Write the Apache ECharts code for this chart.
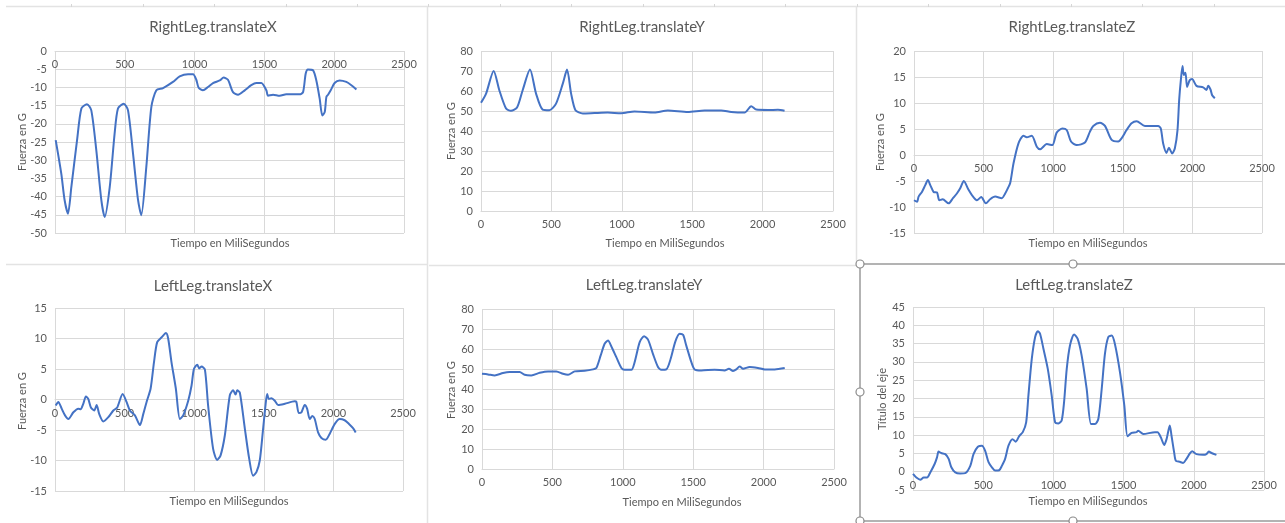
<!DOCTYPE html>
<html>
<head>
<meta charset="utf-8">
<script src="https://cdn.jsdelivr.net/npm/echarts@6/dist/echarts.min.js"></script>
<style>
  html, body { margin: 0; padding: 0; background: #ffffff; }
  #chart { width: 1285px; height: 523px; }
</style>
</head>
<body>
<div id="chart"></div>
<script>
// Sensor traces, time in milliseconds, force in G
const rightLegXTime = [5,45,69,93,117,158,189,229,260,296,332,356,392,427,451,492,523,559,595,618,654,690,726,774,845,893,953,989,1012,1029,1060,1096,1132,1180,1208,1239,1275,1311,1359,1406,1442,1478,1514,1526,1562,1609,1657,1753,1777,1796,1812,1848,1872,1896,1915,1932,1944,1956,1975,2003,2039,2087,2123,2159];
const rightLegXForce = [-24.5,-33.7,-41,-44.7,-37.4,-24.5,-15.8,-14.6,-16.3,-27.3,-41,-45.6,-37.4,-22.7,-15.8,-14.5,-16.3,-28.2,-41,-45.1,-31.9,-15.4,-10.8,-10.2,-8.5,-7,-6.4,-6.4,-7.9,-10.1,-10.8,-9.9,-8.8,-8.1,-7.3,-7.9,-11.3,-12,-10.8,-9.4,-8.8,-8.8,-10.8,-12.3,-12,-12.3,-11.9,-11.9,-11.3,-6.2,-5.1,-5.3,-8.1,-13.1,-17.7,-16.8,-12.6,-12,-10.8,-8.8,-8.1,-8.5,-9.4,-10.6];

const rightLegYTime = [0,36,90,130,178,213,256,296,348,391,438,486,533,581,611,640,671,723,806,900,995,1090,1232,1327,1469,1588,1706,1777,1872,1919,1955,2038,2109,2156];
const rightLegYForce = [54.1,58.7,70,60.4,51.2,50.1,51.7,60.4,70.7,58.7,50.7,50.4,53.7,63.7,70.7,58.7,50.4,48.8,49,49.2,48.9,49.8,49.3,50.3,49.5,50.3,50.3,49.5,49.2,52.4,50.7,50.5,50.6,50.1];

const rightLegZTime = [0,22,33,57,81,100,117,141,165,182,206,249,280,308,332,358,392,416,452,483,516,547,583,631,655,674,691,715,750,786,810,846,882,906,954,994,1025,1066,1097,1128,1169,1228,1264,1288,1336,1372,1420,1467,1491,1527,1563,1599,1659,1754,1773,1790,1814,1831,1855,1874,1893,1905,1917,1929,1938,1950,1962,1981,1998,2029,2077,2101,2113,2130,2142,2161];
const rightLegZForce = [-8.7,-9,-8,-7.1,-5.8,-4.8,-5.8,-7.1,-7.2,-8.7,-8.5,-9.3,-8.3,-7.4,-6.4,-5,-6.7,-7.7,-8.7,-8.1,-9.3,-8.5,-8,-8.3,-7.4,-6.4,-5.4,-1.6,2.2,3.7,3.4,3.7,1.6,1.1,2.1,1.9,4.3,5.1,4.8,2.6,1.9,2.4,4.5,5.6,6.2,5.6,2.9,2.6,3.2,4.8,6.1,6.5,5.6,5.6,5.1,2.2,0.4,1.4,0.3,1.3,4.8,10.6,14.4,17.1,15.4,15.8,13.1,14.4,14.6,13.3,13,12.5,13.3,12.6,11.5,10.9];

const leftLegXTime = [5,24,48,72,96,132,167,184,203,222,239,258,282,299,318,347,383,419,447,486,514,538,574,610,634,658,687,711,734,766,797,813,837,868,897,921,957,981,998,1022,1036,1053,1077,1100,1136,1165,1189,1220,1256,1280,1297,1309,1328,1364,1395,1423,1447,1471,1495,1512,1524,1536,1555,1579,1603,1651,1722,1734,1751,1770,1794,1811,1830,1849,1866,1890,1914,1945,1974,2010,2045,2081,2112,2141,2160];
const leftLegXForce = [-1,-0.4,-1.5,-2.6,-3.2,-2.1,-1.5,-1.6,-0.7,0.5,0.1,-1.3,-1.8,-0.9,-2.4,-3.6,-2.9,-1.8,-1.3,0.9,-0.4,-1.8,-2.6,-4.2,-2.4,-0.4,1.8,6.1,9.4,10.2,10.9,10,6.1,1.8,-3.2,-2.6,-0.2,2.3,5,5.7,5.1,5.4,4.9,-1,-8.1,-9.9,-9.2,-5.9,0.7,1.5,0.8,1.5,1.1,-4.8,-9.7,-12.5,-11.9,-10,-4.8,-1,0.9,0.1,0.2,-0.2,-0.9,-0.7,-0.3,-0.4,-2.2,-2.1,-0.9,-1.5,-3.2,-2.7,-3.2,-5.4,-6.3,-6.6,-5.6,-4,-3.2,-3.4,-4,-4.7,-5.4];

const leftLegYTime = [0,43,90,149,196,267,303,350,410,469,528,575,611,658,729,788,812,843,871,895,918,954,990,1013,1061,1084,1120,1151,1179,1214,1250,1274,1309,1340,1373,1404,1428,1451,1487,1510,1558,1652,1723,1754,1783,1806,1830,1854,1901,1960,2008,2079,2150];
const leftLegYForce = [47.6,47.3,46.8,48,48.5,48.5,47.1,46.8,48.1,48.8,48.8,47.6,47.1,48.8,49.1,49.8,50.5,56.8,62.6,64.2,61.4,55.9,50.5,49.6,49.6,53.4,63.4,66.4,64.7,57.6,51,49.6,49.8,55.1,63.7,67.6,67.1,61.7,53.4,49.8,49.3,49.6,49.3,50.1,49,49.8,51.3,50.1,51,50.5,49.8,49.8,50.5];

const leftLegZTime = [0,24,52,76,100,123,154,171,182,201,230,254,273,301,336,372,408,431,462,491,514,538,562,585,614,633,656,680,709,732,756,782,806,822,846,870,889,905,929,960,988,1012,1036,1059,1076,1095,1118,1147,1173,1201,1237,1268,1296,1320,1344,1367,1391,1415,1438,1474,1505,1528,1557,1592,1604,1640,1723,1742,1765,1789,1806,1829,1841,1860,1872,1900,1924,1948,1972,1988,2019,2066,2090,2107,2126,2161];
const leftLegZForce = [-0.6,-1.6,-2.2,-1.6,-1.6,-0.2,2.1,3.9,5.5,5.1,4.8,3.5,1.2,-0.2,-0.5,-0.4,1.6,4.8,6.8,7.1,5.7,2.6,1.2,0.3,0.4,1.6,3.5,7.1,8.9,8.2,9.7,10.8,13.5,20.8,30.8,36.8,38.4,37.7,33.6,28.1,20.8,13.5,13.2,14,19,28.1,34.5,37.5,36.3,31.8,22.6,13,13,14.4,22.6,32.2,36.8,37.2,34.9,27.2,18.1,9.7,10.6,10.8,11.2,10.3,10.8,10.8,9.4,7.3,8.9,12.6,9.9,5.3,3,2.7,2.4,3.5,5,5.6,4.8,4.6,4.8,5.5,5.1,4.6];

// Panel titles, axis titles and value ranges
const panelTitles = ['RightLeg.translateX','RightLeg.translateY','RightLeg.translateZ','LeftLeg.translateX','LeftLeg.translateY','LeftLeg.translateZ'];
const xAxisTitles = ['Tiempo en MiliSegundos','Tiempo en MiliSegundos','Tiempo en MiliSegundos','Tiempo en MiliSegundos','Tiempo en MiliSegundos','Tiempo en MiliSegundos'];
const yAxisTitles = ['Fuerza en G','Fuerza en G','Fuerza en G','Fuerza en G','Fuerza en G','Título del eje'];
const yMins = [-50, 0, -15, -15, 0, -5];
const yMaxs = [0, 80, 20, 15, 80, 45];
const yIntervals = [5, 10, 5, 5, 10, 5];
const xMin = 0, xMax = 2500, xInterval = 500;

const traces = [
  [rightLegXTime, rightLegXForce],
  [rightLegYTime, rightLegYForce],
  [rightLegZTime, rightLegZForce],
  [leftLegXTime, leftLegXForce],
  [leftLegYTime, leftLegYForce],
  [leftLegZTime, leftLegZForce]
];

// Layout of the six plot areas
const plots = [
  { left: 55,  top: 51,  width: 349, height: 182 },
  { left: 481, top: 51,  width: 352, height: 160 },
  { left: 914, top: 51,  width: 348, height: 182 },
  { left: 55,  top: 308, width: 348, height: 183 },
  { left: 482, top: 309, width: 352, height: 160 },
  { left: 913, top: 307, width: 351, height: 183 }
];
const titlePos = [[213, 27], [642, 27], [1072, 27], [213, 286], [644, 285], [1074, 285]];
const xTitlePos = [[230, 243], [665, 243], [1088, 243], [229, 501], [682, 502], [1088, 501]];
const yTitlePos = [[22, 142], [451, 131], [880, 142], [22, 401], [451, 390], [882, 399]];

const FONT = 'Lato, "Open Sans", sans-serif';
const TEXT = '#595959';
const GRID = '#d9d9d9';
const LINE = '#4472C4';

const chart = echarts.init(document.getElementById('chart'), null, { renderer: 'canvas' });

const grid = plots.map(p => Object.assign({ outerBoundsMode: 'none', containLabel: false }, p));

// The horizontal axis crosses the vertical one at zero: lift it from the
// bottom edge by the share of the value range that lies below zero.
const zeroLift = plots.map((p, i) => {
  const below = Math.max(0, Math.min(yMaxs[i], 0) - yMins[i]);
  return -p.height * below / (yMaxs[i] - yMins[i]);
});

const xAxis = plots.map((p, i) => ({
  type: 'value', gridIndex: i, min: xMin, max: xMax, interval: xInterval,
  position: 'bottom', offset: zeroLift[i],
  axisLine: { show: true, onZero: false, lineStyle: { color: GRID, width: 1 } },
  axisTick: { show: false },
  axisLabel: { color: TEXT, fontSize: 11, fontFamily: FONT, margin: 8, formatter: v => String(v) },
  splitLine: { show: true, lineStyle: { color: GRID, width: 1 } }
}));

const yAxis = plots.map((p, i) => ({
  type: 'value', gridIndex: i, min: yMins[i], max: yMaxs[i], interval: yIntervals[i],
  axisLine: { show: false, onZero: false },
  axisTick: { show: false },
  axisLabel: { color: TEXT, fontSize: 11, fontFamily: FONT, margin: 8, formatter: v => String(v) },
  splitLine: { show: true, lineStyle: { color: GRID, width: 1 } }
}));

const series = traces.map((tr, i) => ({
  type: 'line', xAxisIndex: i, yAxisIndex: i,
  data: tr[0].map((t, k) => [t, tr[1][k]]),
  showSymbol: false, smooth: 0.25,
  lineStyle: { color: LINE, width: 2 },
  itemStyle: { color: LINE },
  animation: false
}));

// Sheet frame, chart borders and the selection handles
const graphic = [];
const frameLine = (x1, y1, x2, y2, color, w) => ({
  type: 'line', silent: true, z: -1,
  shape: { x1, y1, x2, y2 },
  style: { stroke: color, lineWidth: w }
});
graphic.push(frameLine(6, 6.5, 1285, 6.5, '#e3e3e3', 1.5));
for (let k = 1; k <= 17; k++) {
  const x = Math.round(k * 71.4) + 0.5;
  graphic.push(frameLine(x, 4, x, 7, '#d6d6d6', 1));
}
graphic.push(frameLine(427.5, 6, 427.5, 523, '#e3e3e3', 1.5));
graphic.push(frameLine(856.5, 6, 856.5, 262, '#e3e3e3', 1.5));
graphic.push(frameLine(6, 264.5, 428, 264.5, '#e3e3e3', 1.5));
graphic.push(frameLine(429, 265.5, 856, 265.5, '#e3e3e3', 1.5));
graphic.push(frameLine(860, 264, 1285, 264, '#9a9a9a', 1.5));
graphic.push(frameLine(860, 264, 860, 521, '#9a9a9a', 1.5));
graphic.push(frameLine(860, 521, 1285, 521, '#9a9a9a', 1.5));
[[860, 264], [1073, 264], [860, 392], [860, 521], [1073, 521]].forEach(([cx, cy]) => {
  graphic.push({
    type: 'circle', silent: true, z: 10,
    shape: { cx, cy, r: 4 },
    style: { fill: '#ffffff', stroke: '#8a8a8a', lineWidth: 1.2 }
  });
});

panelTitles.forEach((t, i) => {
  graphic.push({
    type: 'text', silent: true,
    x: titlePos[i][0], y: titlePos[i][1],
    style: { text: t, fill: TEXT, fontSize: 15, fontFamily: FONT, align: 'center', verticalAlign: 'middle' }
  });
  graphic.push({
    type: 'text', silent: true,
    x: xTitlePos[i][0], y: xTitlePos[i][1],
    style: { text: xAxisTitles[i], fill: TEXT, fontSize: 11, fontFamily: FONT, align: 'center', verticalAlign: 'middle' }
  });
  graphic.push({
    type: 'text', silent: true,
    x: yTitlePos[i][0], y: yTitlePos[i][1], rotation: Math.PI / 2,
    style: { text: yAxisTitles[i], fill: TEXT, fontSize: 11, fontFamily: FONT, align: 'center', verticalAlign: 'middle' }
  });
});

chart.setOption({
  backgroundColor: '#ffffff',
  animation: false,
  grid, xAxis, yAxis, series, graphic
});
</script>
</body>
</html>
